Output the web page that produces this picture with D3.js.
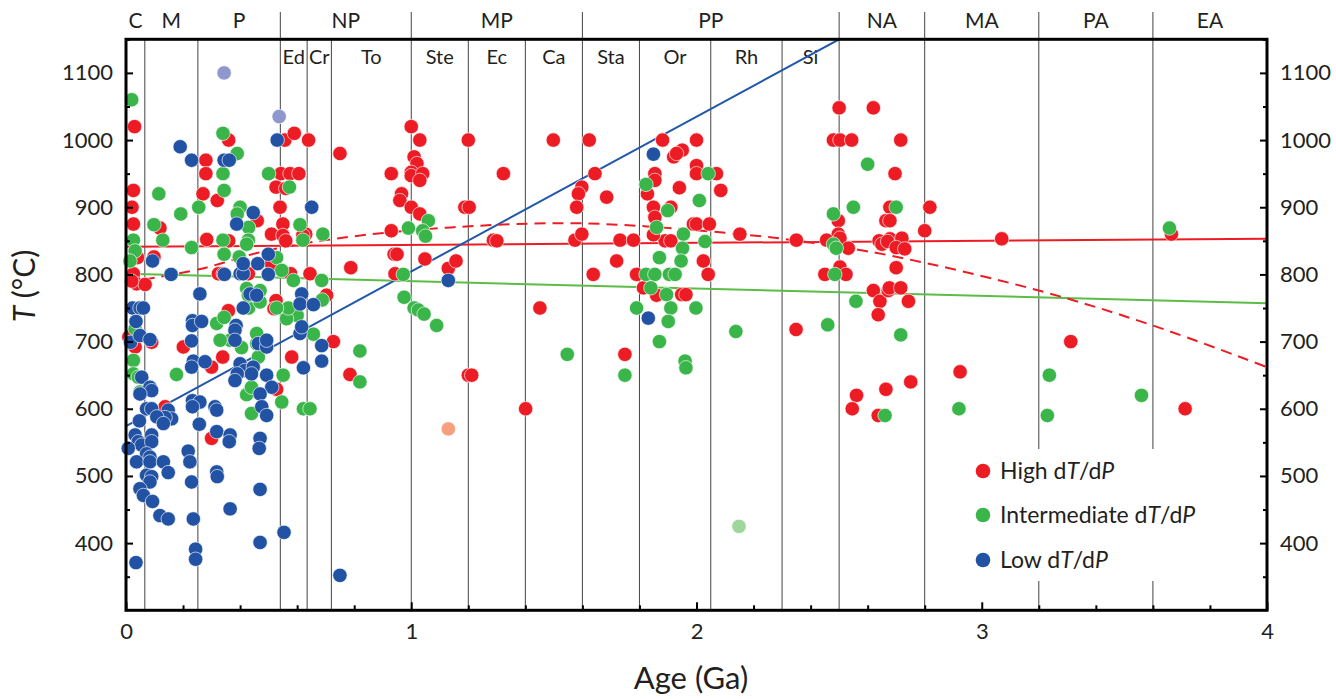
<!DOCTYPE html>
<html><head><meta charset="utf-8">
<script src="https://cdn.jsdelivr.net/npm/d3@7/dist/d3.min.js"></script>
<style>
body{margin:0;background:#fff}
svg{display:block}
text{font-family:Lato,"Open Sans",sans-serif;fill:#231f20}
</style></head>
<body><svg id="chart" width="1336" height="699"></svg>
<script>
// ---------------- data ----------------
const eraNames   = ["C","M","P","NP","MP","PP","NA","MA","PA","EA"];
const eraBounds  = [0,0.066,0.252,0.541,1.0,1.6,2.5,2.8,3.2,3.6,4.0];
const eraLinesAbove = [0.541,1.0,1.6,2.5,2.8,3.2,3.6];
const periodNames  = ["Ed","Cr","To","Ste","Ec","Ca","Sta","Or","Rh","Si"];
const periodBounds = [0.541,0.635,0.72,1.0,1.2,1.4,1.6,1.8,2.05,2.3,2.5];
const innerLines = [0.066,0.252,0.541,0.635,0.72,1.0,1.2,1.4,1.6,1.8,2.05,2.3,2.5,2.8,3.2,3.6];

const xMajorTicks = [0,1,2,3,4];
const yMajorTicks = [400,500,600,700,800,900,1000,1100];

const highDTdP = [
[0.03,1020],[0.28,970],[0.28,950],[0.27,920],[0.32,910],[0.36,1000],[0.46,880],[0.557,1000],[0.59,1010],[0.64,1000],
[0.543,950],[0.575,950],[0.606,950],[0.526,930],[0.56,928],[0.54,900],[0.55,875],[0.51,860],[0.55,858],[0.63,860],
[0.56,850],[0.75,980],[1.0,1020],[1.03,1000],[1.01,975],[1.02,965],[1.0,952],[1.0,947],[1.04,950],[1.03,940],
[0.93,950],[0.966,920],[0.96,910],[1.0,900],[1.03,890],[0.93,865],[0.026,925],[0.021,900],[0.026,875],[0.119,869],
[0.283,852],[0.36,850],[0.04,825],[0.098,826],[0.026,801],[0.037,786],[0.067,785],[0.02,790],[0.324,801],[0.341,801],
[0.429,801],[0.51,816],[0.577,801],[0.645,801],[0.788,810],[0.94,830],[0.95,830],[0.943,801],[1.048,823],[1.13,809],
[1.02,748],[0.727,700],[0.785,651],[0.581,677],[0.703,769],[0.526,761],[0.519,749],[0.528,629],[0.201,692],[0.339,677],
[0.3,662],[0.137,603],[0.032,692],[0.09,699],[0.01,707],[0.359,746],[0.62,858],[0.3,556],
[1.2,1000],[1.498,1000],[1.624,1000],[1.881,1000],[2.0,1000],[1.92,975],[1.95,985],[1.93,980],[1.323,950],[1.644,950],
[2.0,962],[2.0,950],[2.07,950],[1.854,950],[1.854,940],[1.828,920],[1.94,929],[2.085,925],[1.598,930],[1.586,920],
[1.685,915],[1.58,900],[1.849,900],[1.854,885],[1.91,900],[1.989,875],[2.0,875],[2.045,875],[2.152,860],[1.188,900],
[1.203,900],[2.5,1048],[2.62,1048],[2.48,1000],[2.503,1000],[2.544,1000],[2.716,1000],[2.696,950],[2.678,900],[2.664,880],
[2.678,880],[2.818,900],[2.8,865],[3.07,853],[3.665,860],[2.678,853],[2.72,854],[2.497,880],[2.497,860],[2.64,850],
[2.35,851],[2.456,851],[1.288,851],[1.30,850],[1.574,851],[1.598,860],[1.732,851],[1.779,851],[1.89,850],[1.91,850],
[1.849,859],[2.024,820],[2.041,800],[1.72,820],[1.638,800],[1.79,800],[1.814,780],[1.86,769],[1.948,770],[1.963,770],
[1.451,750],[1.749,681],[1.401,600],[1.2,650],[1.212,650],[1.157,820],[2.349,718],[2.503,854],[2.532,839],[2.503,811],
[2.45,800],[2.524,800],[2.62,776],[2.643,760],[2.637,740],[2.672,776],[2.65,845],[2.67,849],[2.561,620],[2.546,600],
[2.637,590],[2.664,629],[2.7,840],[2.73,838],[2.7,810],[2.676,780],[2.716,780],[2.743,760],[2.924,655],[2.751,640],
[3.312,700],[3.713,600]
];

const intermediateDTdP = [
[0.02,1060],[0.34,1010],[0.39,980],[0.34,950],[0.344,925],[0.40,900],[0.39,890],[0.43,870],[0.50,950],[0.573,930],
[0.61,874],[0.62,851],[0.69,860],[1.06,880],[0.99,869],[1.04,865],[1.05,857],[0.026,851],[0.115,920],[0.098,874],
[0.129,851],[0.192,890],[0.255,900],[0.34,851],[0.429,851],[0.032,835],[0.014,820],[0.23,840],[0.344,830],[0.397,826],
[0.423,845],[0.528,825],[0.546,806],[0.587,791],[0.686,791],[0.972,800],[0.975,766],[1.01,750],[1.025,747],[1.045,741],
[1.089,724],[0.82,686],[0.82,640],[0.657,711],[0.688,762],[0.592,744],[0.6,739],[0.563,734],[0.569,750],[0.528,750],
[0.551,650],[0.546,610],[0.622,600],[0.645,600],[0.44,593],[0.423,621],[0.44,632],[0.464,677],[0.458,697],[0.458,712],
[0.405,691],[0.365,702],[0.33,702],[0.318,727],[0.344,736],[0.43,750],[0.423,779],[0.429,769],[0.452,770],[0.47,759],
[0.47,776],[0.177,651],[0.026,672],[0.026,652],[0.043,647],[0.049,625],[0.032,719],
[2.041,950],[1.823,934],[2.01,910],[1.899,895],[1.86,870],[1.954,860],[2.6,964],[2.55,900],[2.7,900],[3.658,869],
[2.48,890],[2.03,849],[1.951,839],[1.87,825],[1.946,820],[1.823,800],[1.854,800],[1.905,800],[1.925,800],[1.84,780],
[1.895,770],[1.79,750],[1.91,750],[1.998,750],[1.901,730],[1.87,700],[1.96,671],[1.963,661],[1.749,650],[1.547,681],
[2.138,715],[2.46,725],[2.48,845],[2.49,839],[2.485,800],[2.559,760],[2.661,590],[2.716,710],[2.92,600],[3.237,650],
[3.23,590],[3.56,620]
];

const lowDTdP = [
[0.19,990],[0.23,970],[0.344,970],[0.362,970],[0.446,892],[0.388,875],[0.53,1000],[0.651,900],
[0.093,820],[0.158,800],[0.345,800],[0.40,801],[0.411,801],[0.411,816],[0.462,816],[0.499,830],[0.499,800],[1.13,791],
[0.686,694],[0.686,671],[0.622,661],[0.61,712],[0.616,722],[0.616,771],[0.61,756],[0.657,755],[0.493,650],[0.464,697],
[0.493,692],[0.493,702],[0.511,632],[0.47,622],[0.476,603],[0.493,590],[0.4,667],[0.417,657],[0.446,662],[0.44,652],
[0.39,652],[0.382,642],[0.386,724],[0.382,717],[0.382,702],[0.411,750],[0.435,771],[0.458,769],[0.23,701],[0.236,671],
[0.23,662],[0.277,670],[0.233,731],[0.233,724],[0.265,730],[0.259,771],[0.312,603],[0.318,598],[0.233,612],[0.259,610],
[0.233,603],[0.257,577],[0.072,600],[0.09,600],[0.148,598],[0.16,585],[0.137,587],[0.108,588],[0.131,578],[0.047,582],
[0.055,647],[0.084,632],[0.09,627],[0.049,622],[0.016,699],[0.049,709],[0.084,703],[0.023,750],[0.049,750],[0.061,750],
[0.035,730],[0.032,561],[0.043,551],[0.055,546],[0.008,541],[0.09,561],[0.09,551],[0.072,533],[0.084,528],[0.037,521],
[0.084,521],[0.072,501],[0.09,499],[0.084,491],[0.049,481],[0.061,471],[0.093,462],[0.131,521],[0.148,505],[0.119,441],
[0.148,436],[0.035,371],[0.218,537],[0.224,521],[0.23,491],[0.236,436],[0.244,391],[0.244,376],[0.318,566],[0.365,561],
[0.362,551],[0.318,506],[0.32,499],[0.365,451],[0.47,556],[0.467,541],[0.47,480],[0.47,401],[0.554,416],[0.75,352],
[1.849,979],[1.831,735]
];

const fadedLow  = [[0.344,1100],[0.537,1035]];
const fadedHigh = [[1.13,570]];
const fadedInt  = [[2.149,425]];

const highTrend = [[0,841],[4,853]];
const intTrend  = [[0,801],[4,757]];
const lowTrend  = [[0,574],[2.5,1150]];
const highCurve = [[0,788],[0.26,808],[0.47,833],[0.73,853],[1.14,870],[1.6,876],[2.15,860],[2.39,848],[2.68,828],[3.2,776],[3.6,724],[4.0,662]];

const legendLabels = [["High d","T","/d","P"],["Intermediate d","T","/d","P"],["Low d","T","/d","P"]];

// ---------------- chart ----------------
const colors = {high:"#ed1c24", mid:"#39b54a", low:"#2152a3",
                fLow:"#8e98ce", fHigh:"#f5a07e", fMid:"#9ed69b"};
const L=126, R=1267, T=39.3, B=610.3;
const svg = d3.select("#chart");
const x = d3.scaleLinear().domain([0,4]).range([L,R]);
const y = d3.scaleLinear().domain([300,1150]).range([B,T]);

// vertical boundary lines inside plot
svg.append("g").selectAll("line").data(innerLines).join("line")
  .attr("x1",d=>x(d)).attr("x2",d=>x(d)).attr("y1",T).attr("y2",B)
  .attr("stroke","#444").attr("stroke-width",1);
// era lines above frame
svg.append("g").selectAll("line").data(eraLinesAbove).join("line")
  .attr("x1",d=>x(d)).attr("x2",d=>x(d)).attr("y1",12).attr("y2",T)
  .attr("stroke","#444").attr("stroke-width",1);

// era labels
svg.append("g").selectAll("text").data(eraNames).join("text")
  .attr("x",(d,i)=>x((eraBounds[i]+eraBounds[i+1])/2)).attr("y",28)
  .attr("text-anchor","middle").style("font-size","21px").text(d=>d);
// period labels
svg.append("g").selectAll("text").data(periodNames).join("text")
  .attr("x",(d,i)=>x((periodBounds[i]+periodBounds[i+1])/2)).attr("y",64)
  .attr("text-anchor","middle").style("font-size","20px").text(d=>d);

// legend background
svg.append("rect").attr("x",960).attr("y",449).attr("width",275).attr("height",132).attr("fill","#fff");

// clip
svg.append("clipPath").attr("id","clip").append("rect")
  .attr("x",L).attr("y",T).attr("width",R-L).attr("height",B-T);

const line = d3.line().x(d=>x(d[0])).y(d=>y(d[1]));
const lg = svg.append("g").attr("clip-path","url(#clip)");
lg.append("path").datum(highTrend).attr("d",line).attr("fill","none").attr("stroke",colors.high).attr("stroke-width",2);
lg.append("path").datum(intTrend).attr("d",line).attr("fill","none").attr("stroke","#5cbd46").attr("stroke-width",2);
lg.append("path").datum(lowTrend).attr("d",line).attr("fill","none").attr("stroke","#2157a8").attr("stroke-width",2);
lg.append("path").datum(highCurve).attr("d",line.curve(d3.curveCatmullRom.alpha(0.5)))
  .attr("fill","none").attr("stroke",colors.high).attr("stroke-width",2).attr("stroke-dasharray","11,7");

// points
function drawPts(data,color){
  svg.append("g").selectAll("circle").data(data).join("circle")
    .attr("cx",d=>x(d[0])).attr("cy",d=>y(d[1])).attr("r",7.2)
    .attr("fill",color).attr("stroke","#fff").attr("stroke-width",0.8).attr("stroke-opacity",0.8);
}
drawPts(fadedLow,colors.fLow);
drawPts(fadedHigh,colors.fHigh);
drawPts(fadedInt,colors.fMid);
drawPts(highDTdP,colors.high);
drawPts(intermediateDTdP,colors.mid);
drawPts(lowDTdP,colors.low);

// axes
function styleAxis(g){
  g.select(".domain").remove();
  g.selectAll(".tick line").attr("stroke","#000").attr("stroke-width",2);
  g.selectAll(".tick text").style("font-size","22px").attr("fill","#231f20")
   .style("font-family","Lato,'Open Sans',sans-serif");
}
const xMinor = d3.range(0,21).map(i=>i*0.2).filter(v=>!xMajorTicks.some(t=>Math.abs(t-v)<1e-6));
const yMinor = d3.range(0,9).map(i=>350+i*100);

svg.append("g").attr("transform",`translate(0,${B})`)
  .call(d3.axisBottom(x).tickValues(xMinor).tickSize(-5).tickFormat("")).call(styleAxis);
svg.append("g").attr("transform",`translate(0,${B})`)
  .call(d3.axisBottom(x).tickValues(xMajorTicks).tickSize(-8).tickPadding(13).tickFormat(d3.format("d"))).call(styleAxis);

svg.append("g").attr("transform",`translate(${L},0)`)
  .call(d3.axisLeft(y).tickValues(yMinor).tickSize(-4).tickFormat("")).call(styleAxis);
svg.append("g").attr("transform",`translate(${L},0)`)
  .call(d3.axisLeft(y).tickValues(yMajorTicks).tickSize(-7).tickPadding(13).tickFormat(d3.format("d"))).call(styleAxis);
svg.append("g").attr("transform",`translate(${R},0)`)
  .call(d3.axisRight(y).tickValues(yMinor).tickSize(-4).tickFormat("")).call(styleAxis);
svg.append("g").attr("transform",`translate(${R},0)`)
  .call(d3.axisRight(y).tickValues(yMajorTicks).tickSize(-7).tickPadding(13).tickFormat(d3.format("d"))).call(styleAxis);

// frame
svg.append("rect").attr("x",L).attr("y",T).attr("width",R-L).attr("height",B-T)
  .attr("fill","none").attr("stroke","#000").attr("stroke-width",3);

// axis titles
svg.append("text").attr("x",691).attr("y",689).attr("text-anchor","middle")
  .style("font-size","31px").text("Age (Ga)");
const yt = svg.append("text").attr("transform","translate(35,286) rotate(-90)")
  .attr("text-anchor","middle").style("font-size","30px");
yt.append("tspan").style("font-style","italic").text("T");
yt.append("tspan").text(" (°C)");

// legend
const legY = [471,515,560];
const legColors = [colors.high,colors.mid,colors.low];
const leg = svg.append("g");
legendLabels.forEach((parts,i)=>{
  leg.append("circle").attr("cx",983).attr("cy",legY[i]).attr("r",7.3).attr("fill",legColors[i]);
  const t = leg.append("text").attr("x",1000).attr("y",legY[i]+8).style("font-size","23px");
  parts.forEach((p,j)=>{ t.append("tspan").style("font-style", j%2===1?"italic":"normal").text(p); });
});
</script>
</body></html>
